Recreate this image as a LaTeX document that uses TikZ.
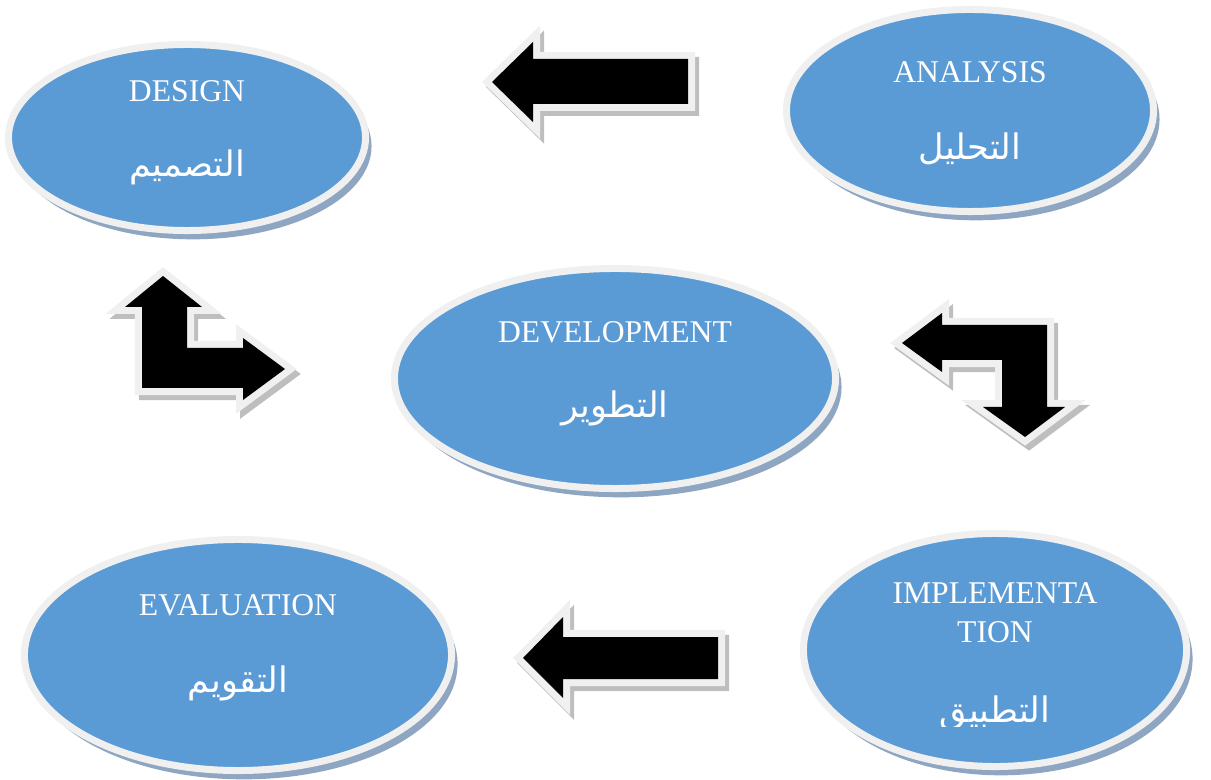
\documentclass[tikz,border=0pt]{standalone}
\usepackage{fontspec}
\setmainfont{Liberation Serif}
\newfontfamily\arabicfont[Script=Arabic]{DejaVu Sans}
\TeXXeTstate=1
\usetikzlibrary{shapes.geometric,shadows}

\definecolor{phaseblue}{HTML}{5B9BD5}
\definecolor{rimgray}{HTML}{F0F0F0}
\definecolor{shadowblue}{HTML}{8EA6C2}
\definecolor{arrowshadow}{HTML}{BEBEBE}

\tikzset{
  phase/.style={ellipse, fill=phaseblue, draw=rimgray, line width=0.175cm,
    drop shadow={shadow xshift=0.15cm, shadow yshift=-0.22cm, fill=shadowblue, opacity=1}},
  en/.style={text=white, font=\fontsize{22.5}{28}\selectfont, align=center},
  ar/.style={text=white, font=\arabicfont\fontsize{25}{30}\selectfont, anchor=base},
  rimline/.style={draw=rimgray, fill=rimgray, line width=0.35cm, line join=miter},
  rimshadow/.style={rimline, draw=arrowshadow, fill=arrowshadow}
}

% block arrow: shadow, light rim, black body
\newcommand{\blockarrow}[1]{%
  \draw[rimshadow, shift={(4,5)}] #1;
  \draw[rimline] #1;
  \fill[black] #1;}

\begin{document}
\begin{tikzpicture}[x=0.025cm, y=-0.025cm]
  \useasboundingbox (0,0) rectangle (1211,780);

  % phases
  \node[phase, minimum width=8.925cm, minimum height=4.65cm] (design) at (187,137.5) {};
  \node[phase, minimum width=9.175cm, minimum height=5.05cm] (analysis) at (970,110.5) {};
  \node[phase, minimum width=11.025cm, minimum height=5.5cm] (development) at (615,378.5) {};
  \node[phase, minimum width=10.675cm, minimum height=5.775cm] (evaluation) at (238,655) {};
  \node[phase, minimum width=9.575cm, minimum height=5.825cm] (implementation) at (995,650) {};

  \node[en] (designEn) at (187,91) {DESIGN};
  \node[ar] (designAr) at (187,177) {\beginR التصميم\endR};
  \node[en] (analysisEn) at (970,72) {ANALYSIS};
  \node[ar] (analysisAr) at (970,160) {\beginR التحليل\endR};
  \node[en] (developmentEn) at (615,332) {DEVELOPMENT};
  \node[ar] (developmentAr) at (615,418) {\beginR التطوير\endR};
  \node[en] (evaluationEn) at (238,605) {EVALUATION};
  \node[ar] (evaluationAr) at (238,692) {\beginR التقويم\endR};
  \node[en] (implementationEn) at (995,613) {IMPLEMENTA\\TION};
  \begin{scope}
    \clip (800,520) rectangle (1200,726);
    \node[ar] (implementationAr) at (995,722) {\beginR التطبيق\endR};
  \end{scope}

  % arrows
  \blockarrow{(492,82) -- (533,42) -- (533,59) -- (688,59) -- (688,104) -- (533,104) -- (533,122) -- cycle}
  \blockarrow{(523,658) -- (563,617) -- (563,637) -- (718,637) -- (718,679) -- (563,679) -- (563,698) -- cycle}
  \blockarrow{(163,276) -- (202,307) -- (187,307) -- (187,348) -- (243,348) -- (243,338) -- (285,369)
    -- (243,400) -- (243,388) -- (142,388) -- (142,307) -- (125,307) -- cycle}
  \blockarrow{(902,343) -- (942,313) -- (942,325) -- (1047,325) -- (1047,407) -- (1065,407) -- (1025,437)
    -- (983,407) -- (1002,407) -- (1002,360) -- (942,360) -- (942,372) -- cycle}
\end{tikzpicture}
\end{document}
